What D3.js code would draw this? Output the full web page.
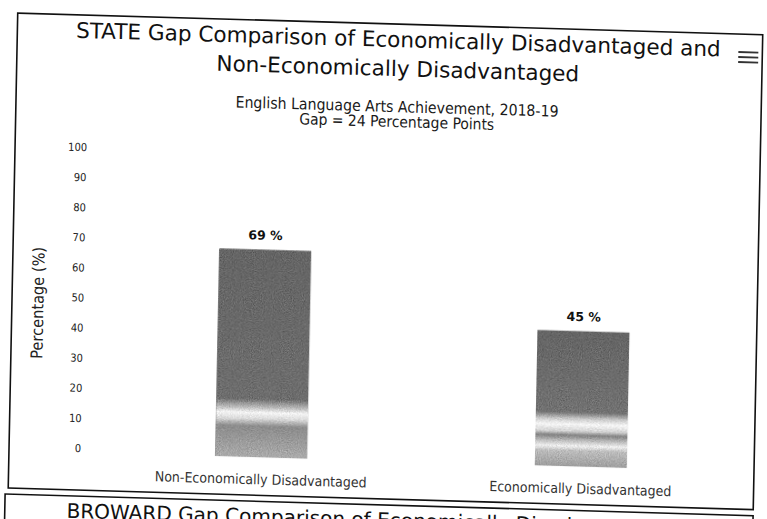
<!DOCTYPE html>
<html>
<head>
<meta charset="utf-8">
<script src="https://cdn.jsdelivr.net/npm/d3@7/dist/d3.min.js"></script>
<style>
  html, body { margin: 0; padding: 0; background: #fff; }
  svg { display: block; }
</style>
</head>
<body>
<svg id="chart" width="767" height="519"></svg>
<script>
// Chart data
const categories = ["Non-Economically Disadvantaged", "Economically Disadvantaged"];
const values = [69, 45];
const yTicks = [0, 10, 20, 30, 40, 50, 60, 70, 80, 90, 100];
const titleLines = ["STATE Gap Comparison of Economically Disadvantaged and", "Non-Economically Disadvantaged"];
const subtitleLines = ["English Language Arts Achievement, 2018-19", "Gap = 24 Percentage Points"];
const yAxisTitle = "Percentage (%)";
const nextPanelTitle = "BROWARD Gap Comparison of Economically Disadvantaged and";

const svg = d3.select("#chart");
const defs = svg.append("defs");

// printed-page grain for the filled bars
const grain = defs.append("filter").attr("id", "grain")
  .attr("x", "0").attr("y", "0").attr("width", "1").attr("height", "1")
  .attr("color-interpolation-filters", "sRGB");
grain.append("feTurbulence").attr("type", "fractalNoise")
  .attr("baseFrequency", "0.9").attr("numOctaves", 2).attr("seed", 7).attr("result", "noise");
grain.append("feColorMatrix").attr("in", "noise").attr("type", "matrix")
  .attr("values", "0.33 0.33 0.33 0 0  0.33 0.33 0.33 0 0  0.33 0.33 0.33 0 0  0 0 0 0 1")
  .attr("result", "gray");
grain.append("feComposite").attr("in", "SourceGraphic").attr("in2", "gray")
  .attr("operator", "arithmetic").attr("k1", 0).attr("k2", 1).attr("k3", 0.5).attr("k4", -0.25).attr("result", "mix");
grain.append("feComposite").attr("in", "mix").attr("in2", "SourceGraphic").attr("operator", "in");

// vertical shading for each bar
const barStops = [
  [[0, "#656565"], [0.72, "#6e6e6e"], [0.76, "#bcbcbc"], [0.785, "#f5f5f5"], [0.815, "#dadada"], [0.85, "#8c8c8c"], [1, "#ababab"]],
  [[0, "#656565"], [0.6, "#727272"], [0.65, "#cccccc"], [0.69, "#f7f7f7"], [0.74, "#d2d2d2"], [0.77, "#828282"], [0.81, "#bdbdbd"], [0.85, "#f0f0f0"], [0.885, "#bdbdbd"], [1, "#9e9e9e"]]
];
barStops.forEach((stops, i) => {
  const g = defs.append("linearGradient").attr("id", "barShade-" + i)
    .attr("x1", 0).attr("y1", 0).attr("x2", 0).attr("y2", 1);
  stops.forEach(([o, c]) => g.append("stop").attr("offset", o).attr("stop-color", c));
});

// whole page sits slightly askew on the sheet
const page = svg.append("g")
  .attr("transform", "matrix(1,0.029,-0.02,1,5.2,-11.31)");

// helper: shrink or grow a text node to a given width
function fitWidth(sel, target) {
  const node = sel.node();
  const base = parseFloat(sel.attr("font-size"));
  const len = node.getComputedTextLength();
  if (len > 0) sel.attr("font-size", (base * target / len).toFixed(2));
  return sel;
}

// panel frames
page.append("rect").attr("x", 13).attr("y", 24).attr("width", 745).attr("height", 475)
  .attr("fill", "none").attr("stroke", "#111").attr("stroke-width", 1.6);
page.append("rect").attr("x", 10).attr("y", 505).attr("width", 748).attr("height", 120)
  .attr("fill", "none").attr("stroke", "#111").attr("stroke-width", 1.6);

const cx = 394;

// titles
const titleWidths = [645, 363];
const titleY = [47, 76];
titleLines.forEach((t, i) => {
  const el = page.append("text").attr("x", cx).attr("y", titleY[i])
    .attr("text-anchor", "middle").attr("font-family", "'DejaVu Sans', sans-serif")
    .attr("font-size", 20).attr("fill", "#111").text(t);
  fitWidth(el, titleWidths[i]);
});

const subWidths = [323, 195];
const subY = [112, 127];
subtitleLines.forEach((t, i) => {
  const el = page.append("text").attr("x", cx).attr("y", subY[i])
    .attr("text-anchor", "middle").attr("font-family", "'DejaVu Sans Condensed', 'Liberation Sans Narrow', sans-serif")
    .attr("font-size", 12).attr("fill", "#1a1a1a").text(t);
  fitWidth(el, subWidths[i]);
});

// menu icon
[42, 47, 52].forEach(y => {
  page.append("line").attr("x1", 734).attr("x2", 754).attr("y1", y).attr("y2", y)
    .attr("stroke", "#333").attr("stroke-width", 1.8);
});

// scales
const x = d3.scaleBand().domain(categories).range([106, 744]).paddingInner(0.712).paddingOuter(0.354);
const y = d3.scaleLinear().domain([0, 100]).range([461, 160]);

// y axis labels
const yAxis = d3.axisLeft(y).tickValues(yTicks).tickSize(0).tickPadding(0);
const yAxisG = page.append("g").attr("transform", "translate(85,-4)").call(yAxis);
yAxisG.select(".domain").remove();
yAxisG.selectAll("text")
  .attr("font-family", "'DejaVu Sans Condensed', 'Liberation Sans Narrow', sans-serif")
  .attr("font-size", 11).attr("fill", "#222");

// y axis title
const yt = page.append("text")
  .attr("transform", "translate(40,313) rotate(-90)")
  .attr("text-anchor", "middle").attr("dominant-baseline", "middle")
  .attr("font-family", "'DejaVu Sans Condensed', 'Liberation Sans Narrow', sans-serif")
  .attr("font-size", 12).attr("fill", "#222").text(yAxisTitle);
fitWidth(yt, 112);

// bars
page.selectAll("rect.bar").data(values).join("rect")
  .attr("class", "bar")
  .attr("x", (d, i) => x(categories[i]))
  .attr("y", d => y(d))
  .attr("width", x.bandwidth())
  .attr("height", d => y(0) - y(d))
  .attr("fill", (d, i) => `url(#barShade-${i})`)
  .attr("filter", "url(#grain)");

// value labels
page.selectAll("text.val").data(values).join("text")
  .attr("class", "val")
  .attr("x", (d, i) => x(categories[i]) + x.bandwidth() / 2)
  .attr("y", d => y(d) - 10)
  .attr("text-anchor", "middle")
  .attr("font-family", "'DejaVu Sans', sans-serif").attr("font-weight", "bold")
  .attr("font-size", 12.5).attr("fill", "#111")
  .text(d => d + " %");

// category labels
const xAxis = d3.axisBottom(x).tickSize(0).tickPadding(0);
const xAxisG = page.append("g").attr("transform", `translate(0,${y(0) + 27})`).call(xAxis);
xAxisG.select(".domain").remove();
xAxisG.selectAll("text")
  .attr("font-family", "'DejaVu Sans Condensed', 'Liberation Sans Narrow', sans-serif")
  .attr("font-size", 12).attr("fill", "#333")
  .attr("dy", "0");
const catSample = xAxisG.select("text");
fitWidth(catSample, 212);
xAxisG.selectAll("text").attr("font-size", catSample.attr("font-size"));

// start of the next panel
const np = page.append("text").attr("x", cx).attr("y", 527)
  .attr("text-anchor", "middle").attr("font-family", "'DejaVu Sans', sans-serif")
  .attr("font-size", 20).attr("fill", "#111").text(nextPanelTitle);
fitWidth(np, 645);
</script>
</body>
</html>
